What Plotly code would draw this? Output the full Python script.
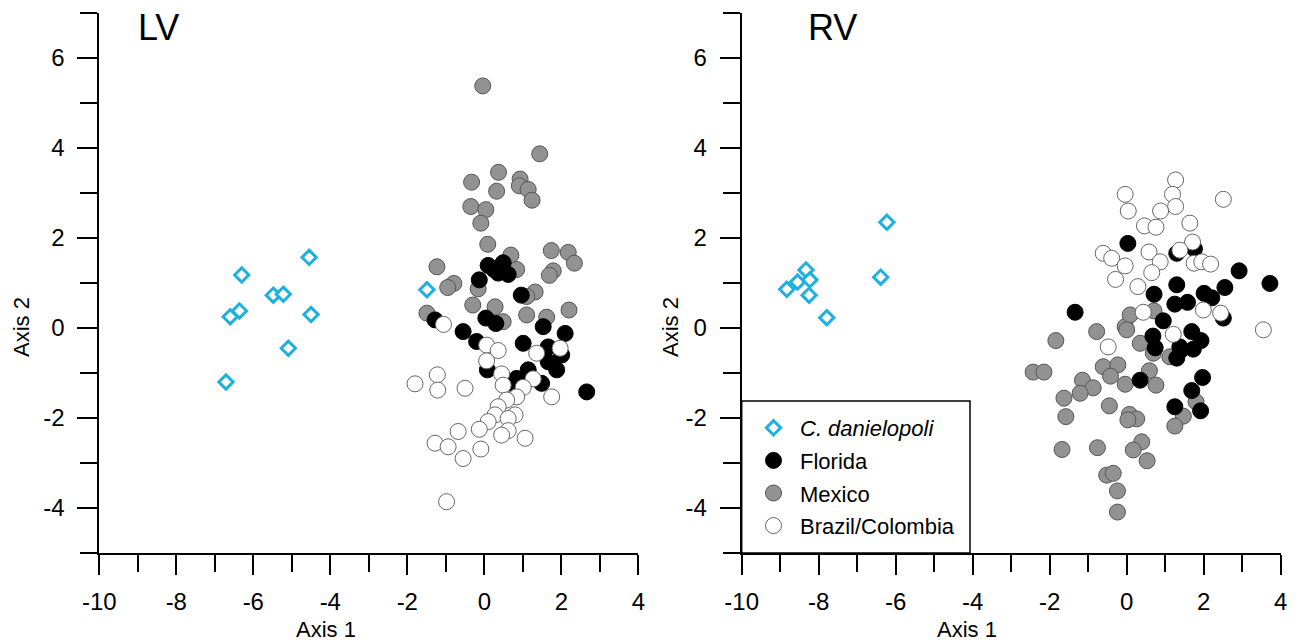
import plotly.graph_objects as go

# ---------------- data: LV panel ----------------
lv_dan_x = [-6.71, -6.60, -6.36, -6.30, -5.48, -5.22, -4.55, -4.50, -5.09, -1.49]
lv_dan_y = [-1.20, 0.25, 0.38, 1.18, 0.73, 0.75, 1.57, 0.30, -0.45, 0.85]

lv_mex_x = [-0.04, 1.44, 0.37, -0.33, 0.93, 0.91, 1.14, 0.32, 1.24, -0.35, 0.04,
            -0.09, 0.09, 0.69, 1.74, 2.18, 2.34, -1.23, 0.84, 1.79, 1.69, -0.79,
            -0.95, -0.16, 1.32, 1.10, -0.30, 0.28, 2.20, -1.49, 1.10, 1.62, 0.49]
lv_mex_y = [5.38, 3.87, 3.46, 3.24, 3.31, 3.16, 3.08, 3.04, 2.84, 2.70, 2.63,
            2.33, 1.86, 1.62, 1.72, 1.68, 1.44, 1.36, 1.30, 1.27, 1.17, 0.99,
            0.90, 0.87, 0.80, 0.70, 0.51, 0.47, 0.40, 0.33, 0.29, 0.24, 0.14]

lv_flo_x = [0.10, 0.49, 0.36, 0.62, -0.13, 0.96, 0.25, -1.28, 0.04, 0.30, 1.53,
            -0.55, 2.10, -0.20, 1.01, 1.66, 2.01, 1.66, 1.88, 0.08, 1.14, 0.84,
            1.49, 2.66, 0.71]
lv_flo_y = [1.39, 1.45, 1.22, 1.19, 1.07, 0.73, 1.30, 0.18, 0.22, 0.10, 0.03,
            -0.08, -0.12, -0.30, -0.34, -0.42, -0.60, -0.75, -0.93, -0.93, -0.93, -1.12,
            -1.23, -1.42, -1.23]

lv_bra_x = [-1.06, 0.06, 0.36, 1.36, 1.97, 0.06, 0.45, 0.49, 1.27, 1.01, 1.75,
            -1.80, -1.22, -1.21, -0.50, 0.84, 0.58, 0.36, 0.28, 0.80, 0.10, 0.62,
            -0.13, -0.68, 0.62, 0.45, 1.06, -1.28, -0.94, -0.09, -0.55, -0.98]
lv_bra_y = [0.08, -0.38, -0.50, -0.56, -0.45, -0.73, -1.02, -1.27, -1.13, -1.32, -1.53,
            -1.24, -1.04, -1.38, -1.34, -1.53, -1.60, -1.75, -1.93, -1.93, -2.08, -2.01,
            -2.25, -2.30, -2.28, -2.38, -2.45, -2.56, -2.64, -2.69, -2.90, -3.86]

# ---------------- data: RV panel ----------------
rv_dan_x = [-6.23, -6.39, -8.33, -8.55, -8.83, -8.23, -8.25, -7.79]
rv_dan_y = [2.35, 1.13, 1.29, 1.02, 0.86, 1.07, 0.73, 0.23]

rv_mex_x = [-1.84, -0.78, -0.04, 0.09, 0.71, 0.35, 0.00, 0.69, 1.12, -0.61, -0.23,
            -0.42, -2.43, -2.15, 0.59, 0.76, -0.04, -1.15, -0.87, -1.21, -1.63, -0.45,
            -1.58, 0.07, 0.26, 0.03, 1.80, 1.47, 1.25, 0.39, 0.17, 0.53, -1.68,
            -0.76, -0.52, -0.35, -0.24, -0.24]
rv_mex_y = [-0.28, -0.08, 0.03, 0.29, 0.38, -0.34, -0.04, -0.56, -0.64, -0.86, -0.82,
            -1.07, -0.98, -0.98, -0.95, -1.27, -1.25, -1.16, -1.33, -1.45, -1.56, -1.73,
            -1.97, -1.92, -2.02, -2.04, -1.64, -1.96, -2.18, -2.53, -2.71, -2.95, -2.70,
            -2.66, -3.27, -3.23, -3.62, -4.09]

rv_flo_x = [0.03, 1.30, 1.76, 2.92, 3.72, 1.30, 0.71, 2.01, 2.55, 2.21, 1.25,
            1.58, -1.34, 0.95, 2.51, 0.68, 1.69, 1.93, 1.38, 0.74, 1.41, 1.30,
            1.73, 0.35, 1.97, 1.69, 1.25, 1.92]
rv_flo_y = [1.88, 1.66, 1.76, 1.27, 0.99, 0.96, 0.75, 0.77, 0.90, 0.67, 0.53,
            0.57, 0.35, 0.16, 0.22, -0.18, -0.08, -0.28, -0.42, -0.44, -0.49, -0.67,
            -0.47, -1.16, -1.10, -1.39, -1.75, -1.84]

rv_bra_x = [1.27, -0.04, 1.19, 2.51, 0.04, 1.27, 0.88, 1.64, 0.46, 0.76, 1.71,
            -0.61, -0.39, 0.58, 1.38, 0.87, 1.75, 1.95, 2.18, -0.04, 0.65, -0.29,
            0.29, 0.43, 1.99, 2.44, 3.55, 1.21, -0.48]
rv_bra_y = [3.29, 2.97, 2.97, 2.86, 2.60, 2.70, 2.60, 2.33, 2.27, 2.24, 1.91,
            1.66, 1.55, 1.69, 1.73, 1.47, 1.44, 1.47, 1.42, 1.38, 1.23, 1.08,
            0.92, 0.35, 0.40, 0.33, -0.04, -0.14, -0.42]

group_names = ["<i>C. danielopoli</i>", "Florida", "Mexico", "Brazil/Colombia"]
panel_titles = ["LV", "RV"]
axis_titles = ["Axis 1", "Axis 2"]

x_tickvals = [-10, -8, -6, -4, -2, 0, 2, 4]
x_ticktext = ["-10", "-8", "-6", "-4", "-2", "0", "2", "4"]
y_tickvals = [-4, -2, 0, 2, 4, 6]
y_ticktext = ["-4", "-2", "0", "2", "4", "6"]

FONT = "Liberation Sans, Arial, sans-serif"
CYAN = "#1fb0e0"
GRAY = "#929292"

fig = go.Figure()

panels = [
    (lv_dan_x, lv_dan_y, lv_flo_x, lv_flo_y, lv_mex_x, lv_mex_y, lv_bra_x, lv_bra_y),
    (rv_dan_x, rv_dan_y, rv_flo_x, rv_flo_y, rv_mex_x, rv_mex_y, rv_bra_x, rv_bra_y),
]

for i, (dx, dy, fx, fy, mx, my, bx, by) in enumerate(panels):
    xa = "x" if i == 0 else "x2"
    ya = "y" if i == 0 else "y2"
    show = (i == 1)
    fig.add_trace(go.Scatter(x=mx, y=my, mode="markers", name=group_names[2],
                             xaxis=xa, yaxis=ya, legendgroup="mex", legendrank=3,
                             showlegend=show,
                             marker=dict(size=16, color=GRAY, line=dict(color="#555555", width=1))))
    fig.add_trace(go.Scatter(x=fx, y=fy, mode="markers", name=group_names[1],
                             xaxis=xa, yaxis=ya, legendgroup="flo", legendrank=2,
                             showlegend=show,
                             marker=dict(size=16, color="black", line=dict(color="black", width=1))))
    fig.add_trace(go.Scatter(x=bx, y=by, mode="markers", name=group_names[3],
                             xaxis=xa, yaxis=ya, legendgroup="bra", legendrank=4,
                             showlegend=show,
                             marker=dict(size=16, color="white", line=dict(color="#666666", width=1))))
    fig.add_trace(go.Scatter(x=dx, y=dy, mode="markers", name=group_names[0],
                             xaxis=xa, yaxis=ya, legendgroup="dan", legendrank=1,
                             showlegend=show,
                             marker=dict(symbol="diamond", size=11, color="white",
                                         line=dict(color=CYAN, width=3))))

W, H = 1301, 643
xdom = [[99.3 / W, 638.3 / W], [741.7 / W, 1280.7 / W]]
ydom = [1 - 553 / H, 1 - 13 / H]

def xaxis_cfg(dom):
    return dict(domain=dom, range=[-10, 4], tickmode="array",
                tickvals=x_tickvals, ticktext=x_ticktext, ticks="outside",
                ticklen=20, tickwidth=2, tickcolor="black", showline=True,
                linecolor="black", linewidth=2, showgrid=False, zeroline=False,
                tickfont=dict(family=FONT, size=24, color="black"),
                ticklabelstandoff=6,
                minor=dict(dtick=1, tick0=0, ticks="outside", ticklen=17, tickwidth=2,
                           tickcolor="black", showgrid=False),
                fixedrange=True, automargin=False)

def yaxis_cfg(anchor):
    return dict(domain=ydom, range=[-5, 7], tickmode="array",
                tickvals=y_tickvals, ticktext=y_ticktext, ticks="outside",
                ticklen=20, tickwidth=2, tickcolor="black", showline=True,
                linecolor="black", linewidth=2, showgrid=False, zeroline=False,
                tickfont=dict(family=FONT, size=24, color="black"),
                ticklabelstandoff=8, anchor=anchor,
                minor=dict(dtick=1, tick0=0, ticks="outside", ticklen=17, tickwidth=2,
                           tickcolor="black", showgrid=False),
                fixedrange=True, automargin=False)

fig.update_layout(
    width=W, height=H,
    margin=dict(l=0, r=0, t=0, b=0),
    paper_bgcolor="white", plot_bgcolor="white",
    font=dict(family=FONT, color="black"),
    xaxis=dict(xaxis_cfg(xdom[0]), anchor="y"),
    yaxis=yaxis_cfg("x"),
    xaxis2=dict(xaxis_cfg(xdom[1]), anchor="y2"),
    yaxis2=yaxis_cfg("x2"),
    legend=dict(x=747 / W, y=1 - 407 / H, xanchor="left", yanchor="top",
                bgcolor="rgba(0,0,0,0)", borderwidth=0,
                font=dict(family=FONT, size=22, color="black"),
                itemwidth=43, tracegroupgap=1, traceorder="grouped"),
    showlegend=True,
)

# legend frame
fig.add_shape(type="rect", xref="paper", yref="paper",
              x0=741.7 / W, x1=970 / W, y0=1 - 553 / H, y1=1 - 401 / H,
              line=dict(color="black", width=1.5), layer="above")

# panel labels
fig.add_annotation(text=panel_titles[0], xref="paper", yref="paper",
                   x=136 / W, y=1 - 28 / H, xanchor="left", yanchor="middle",
                   showarrow=False, font=dict(family=FONT, size=36, color="black"))
fig.add_annotation(text=panel_titles[1], xref="paper", yref="paper",
                   x=806 / W, y=1 - 28 / H, xanchor="left", yanchor="middle",
                   showarrow=False, font=dict(family=FONT, size=36, color="black"))

# axis titles
for xt, yt in [(325.7, 21), (967, 670)]:
    fig.add_annotation(text=axis_titles[0], xref="paper", yref="paper",
                       x=xt / W, y=1 - 629 / H, xanchor="center", yanchor="middle",
                       showarrow=False, font=dict(family=FONT, size=22, color="black"))
    fig.add_annotation(text=axis_titles[1], xref="paper", yref="paper",
                       x=yt / W, y=1 - 327 / H, xanchor="center", yanchor="middle",
                       textangle=-90, showarrow=False,
                       font=dict(family=FONT, size=22, color="black"))

fig.write_html("out.html", post_script="document.body.style.margin='0';",
               config={"displayModeBar": False})
